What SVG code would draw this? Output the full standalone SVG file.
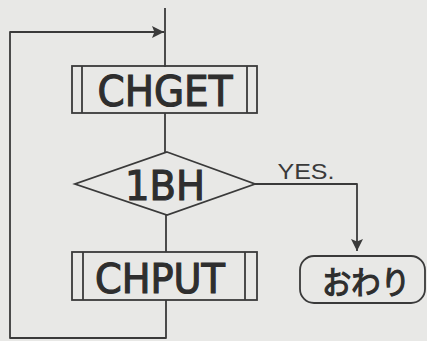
<svg xmlns="http://www.w3.org/2000/svg" width="427" height="341" viewBox="0 0 427 341">
<style>
.ln{fill:none;stroke:#3a3a3a;stroke-width:1.8;stroke-linejoin:round}
.box{fill:none;stroke:#3a3a3a;stroke-width:1.8}
.t{font-family:"DejaVu Sans","Noto Sans CJK JP",sans-serif;fill:#2e2e2e;stroke:#2e2e2e;stroke-width:1.2;text-anchor:middle}
.ah{fill:#3a3a3a;stroke:none}
</style>
<defs>
<marker id="arr" viewBox="0 0 10 10" refX="10" refY="5" markerWidth="22" markerHeight="12" markerUnits="userSpaceOnUse" orient="auto">
<path d="M0,0 L10,5 L0,10 L2,5 Z" class="ah"/>
</marker>
</defs>
<rect width="427" height="341" fill="#e8e8e6"/>
<g id="connectors">
<path class="ln" d="M165,8 V67"/>
<path class="ln" d="M165,113 V152"/>
<path class="ln" d="M166,215 V252"/>
<path class="ln" d="M166,300 V338 H10 V32 H164" marker-end="url(#arr)"/>
<path class="ln" d="M255,184 H357 V251" marker-end="url(#arr)"/>
<text x="306" y="179" font-size="22" fill="#3a3a3a" text-anchor="middle" style="font-family:'Liberation Sans',sans-serif" textLength="57" lengthAdjust="spacingAndGlyphs">YES.</text>
</g>
<g id="chget">
<rect class="box" x="72" y="66" width="185" height="47"/>
<line class="box" x1="82" y1="66" x2="82" y2="113"/>
<line class="box" x1="247" y1="66" x2="247" y2="113"/>
<text class="t" x="165" y="106" font-size="42" textLength="135" lengthAdjust="spacingAndGlyphs">CHGET</text>
</g>
<g id="decision">
<polygon class="box" points="167,152 255,184 167,215 75,184"/>
<text class="t" x="165" y="200" font-size="41" textLength="80" lengthAdjust="spacingAndGlyphs">1BH</text>
</g>
<g id="chput">
<rect class="box" x="72" y="252" width="185" height="48"/>
<line class="box" x1="83" y1="252" x2="83" y2="300"/>
<line class="box" x1="245" y1="252" x2="245" y2="300"/>
<text class="t" x="160" y="293" font-size="40" textLength="130" lengthAdjust="spacingAndGlyphs">CHPUT</text>
</g>
<g id="owari">
<rect class="box" x="300" y="256" width="125" height="47" rx="14"/>
<text class="t" x="366" y="294" font-size="32" textLength="88" lengthAdjust="spacingAndGlyphs">おわり</text>
</g>
</svg>
